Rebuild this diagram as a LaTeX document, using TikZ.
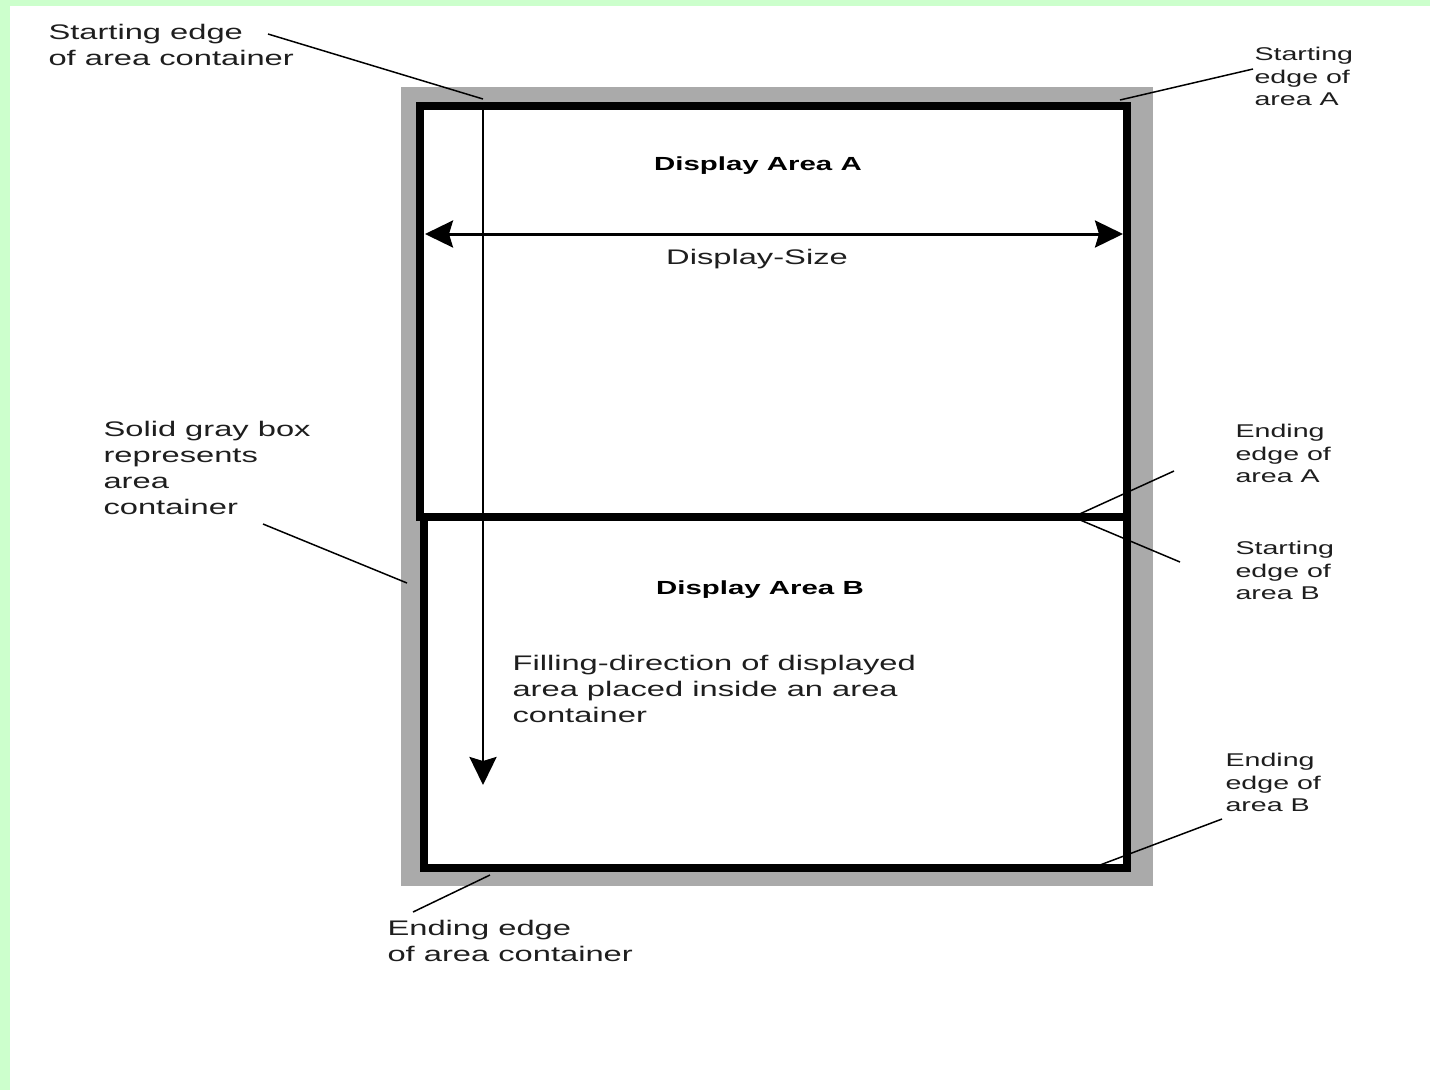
\documentclass[tikz,border=0pt]{standalone}
\usepackage{fontspec}
\setmainfont{Liberation Sans}
\usetikzlibrary{positioning, arrows.meta}
\definecolor{pagegreen}{RGB}{204,255,204}
\definecolor{containergray}{RGB}{170,170,170}
\definecolor{inkgray}{RGB}{30,30,30}

\begin{document}
\begin{tikzpicture}[
    x=0.02cm, y=-0.02cm,
    note/.style={anchor=north west, inner sep=0pt, align=left, xscale=1.55, text=inkgray, font=\fontsize{12}{14.8}\selectfont},
    smallnote/.style={note, font=\fontsize{10.5}{12.8}\selectfont},
    areatitle/.style={inner sep=0pt, xscale=1.55, font=\fontsize{10.8}{13}\selectfont\bfseries},
    leader/.style={line width=0.85pt},
    areaframe/.style={line width=4.5pt},
    dimarrow/.style={line width=1.7pt, {Stealth[length=0.56cm, width=0.54cm, inset=0.08cm]}-{Stealth[length=0.56cm, width=0.54cm, inset=0.08cm]}},
    fillarrow/.style={line width=1.7pt, -{Stealth[length=0.56cm, width=0.54cm, inset=0.08cm]}}
]

\useasboundingbox (0,0) rectangle (1430,1090);
\fill[white] (0,0) rectangle (1430,1090);
\fill[pagegreen] (0,0) rectangle (10,1090);
\fill[pagegreen] (0,0) rectangle (1430,6);

\fill[containergray] (401,87) rectangle (1153,886);
\fill[white] (424,110) rectangle (1123,864);
\draw[areaframe] (424,517) rectangle (1127,868);
\draw[areaframe] (420,106) rectangle (1127,517);

\node[areatitle] (titleA) at (758,166) {Display Area A};
\node[areatitle] (titleB) at (760,590) {Display Area B};

\coordinate (sizeL) at (425,234);
\coordinate (sizeR) at (1123,234);
\draw[dimarrow] (sizeL) -- (sizeR);
\node[note, anchor=center] (size) at (757,259) {Display-Size};

\coordinate (fillTop) at (483,106);
\coordinate (fillEnd) at (483,785);
\draw[fillarrow] (fillTop) -- (fillEnd);
\node[note] (filling) at (512,655) {Filling-direction of displayed\\area placed inside an area\\container};

\node[note] (ctStartLbl) at (48,24) {Starting edge\\of area container};
\node[smallnote] (aStartLbl) at (1254,47) {Starting\\edge of\\area A};
\node[note] (grayLbl) at (103,421) {Solid gray box\\represents\\area\\container};
\node[smallnote] (aEndLbl) at (1235,424) {Ending\\edge of\\area A};
\node[smallnote] (bStartLbl) at (1235,541) {Starting\\edge of\\area B};
\node[smallnote] (bEndLbl) at (1225,753) {Ending\\edge of\\area B};
\node[note] (ctEndLbl) at (387,920) {Ending edge\\of area container};

\coordinate (ctStartTail) at (268,34);
\coordinate (ctStart) at (483,99);
\coordinate (aStartTail) at (1253,69);
\coordinate (aStart) at (1120,100);
\coordinate (grayTail) at (263,524);
\coordinate (grayEdge) at (407,583);
\coordinate (aEndTail) at (1174,471);
\coordinate (bStartTail) at (1180,562);
\coordinate (abJoin) at (1073,517);
\coordinate (bEndTail) at (1222,819);
\coordinate (bEnd) at (1100,865);
\coordinate (ctEndTail) at (413,912);
\coordinate (ctEnd) at (490,875);

\draw[leader] (ctStartTail) -- (ctStart);
\draw[leader] (aStartTail) -- (aStart);
\draw[leader] (grayTail) -- (grayEdge);
\draw[leader] (aEndTail) -- (abJoin);
\draw[leader] (bStartTail) -- (abJoin);
\draw[leader] (bEndTail) -- (bEnd);
\draw[leader] (ctEndTail) -- (ctEnd);

\end{tikzpicture}
\end{document}
